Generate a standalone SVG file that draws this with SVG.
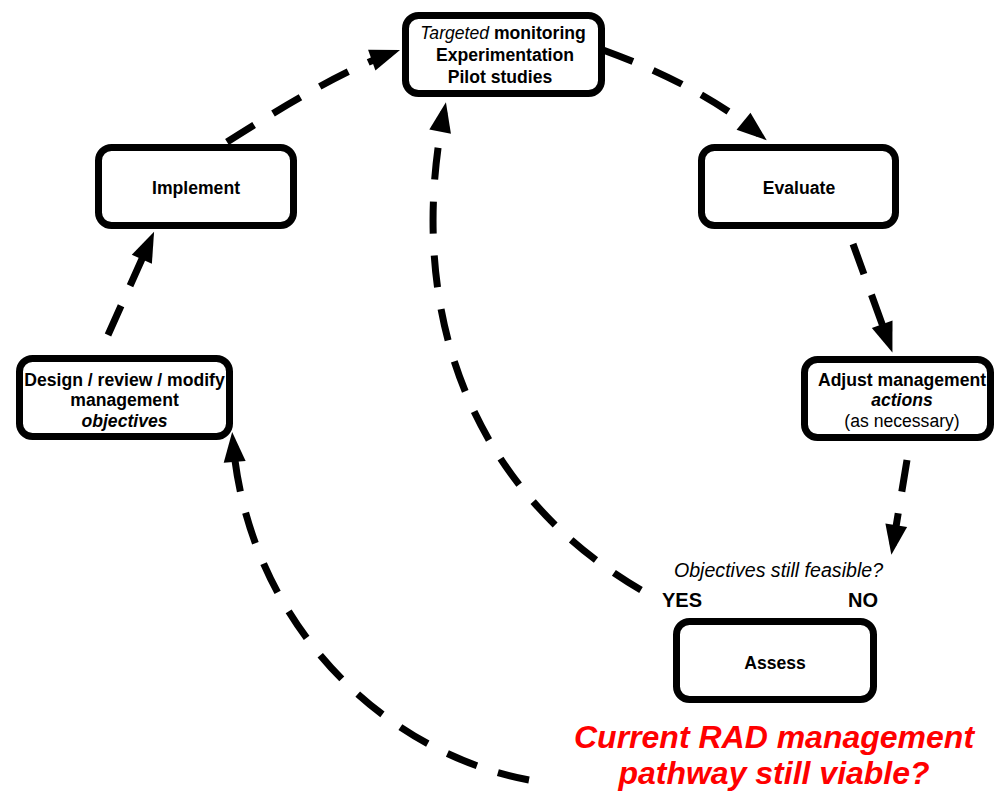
<svg xmlns="http://www.w3.org/2000/svg" width="994" height="791" viewBox="0 0 994 791">
<style>
.box{fill:#fff;stroke:#000;stroke-width:7}
.t{font-family:"Liberation Sans",Arial,sans-serif;font-size:17.6px;font-weight:bold;text-anchor:middle;fill:#000}
.n{font-weight:normal}
.i{font-style:italic}
.c{fill:none;stroke:#000;stroke-width:7;stroke-dasharray:32 22}
.lbl{font-family:"Liberation Sans",Arial,sans-serif;fill:#000}
.red{font-family:"Liberation Sans",Arial,sans-serif;font-size:32px;font-weight:bold;font-style:italic;fill:#ff0000;text-anchor:middle}
</style>
<defs>
<marker id="ah" viewBox="-22 -13 34 26" refX="0" refY="0" markerWidth="34" markerHeight="26" markerUnits="userSpaceOnUse" orient="auto">
<path d="M-20,-11 L10,0 L-20,11 z" fill="#000"/>
</marker>
</defs>
<g id="connectors">
<path class="c" d="M227,142 Q334.6,73.2 390.6,53.4" marker-end="url(#ah)"/>
<path class="c" d="M603,50 Q699,85 759,134" marker-end="url(#ah)"/>
<path class="c" d="M853,244 L889,343" marker-end="url(#ah)"/>
<path class="c" d="M907,460 L893,545" marker-end="url(#ah)"/>
<path class="c" d="M641,590 C470,490 405,310 444,112" marker-end="url(#ah)"/>
<path class="c" d="M529,780 C380,752 248,620 233,442" marker-end="url(#ah)"/>
<path class="c" d="M108,335 L150,241" marker-end="url(#ah)"/>
</g>
<g id="node-monitoring">
<rect class="box" x="405.5" y="15.5" width="196" height="78" rx="13"/>
<text class="t" x="503" y="39"><tspan class="n i">Targeted</tspan> monitoring</text>
<text class="t" x="505" y="61">Experimentation</text>
<text class="t" x="500" y="83">Pilot studies</text>
</g>
<g id="node-implement">
<rect class="box" x="98.5" y="147.5" width="195" height="78" rx="13"/>
<text class="t" x="196" y="194">Implement</text>
</g>
<g id="node-evaluate">
<rect class="box" x="701.5" y="147.5" width="194" height="78" rx="13"/>
<text class="t" x="799" y="194">Evaluate</text>
</g>
<g id="node-design">
<rect class="box" x="19.5" y="358.5" width="210" height="78" rx="13"/>
<text class="t" x="124.5" y="386">Design / review / modify</text>
<text class="t" x="124.5" y="406">management</text>
<text class="t i" x="124.5" y="427">objectives</text>
</g>
<g id="node-adjust">
<rect class="box" x="804.5" y="359.5" width="186" height="78" rx="13"/>
<text class="t" x="902" y="386">Adjust management</text>
<text class="t i" x="902" y="406">actions</text>
<text class="t n" x="902" y="427">(as necessary)</text>
</g>
<g id="node-assess">
<rect class="box" x="676.5" y="621.5" width="197" height="78" rx="13"/>
<text class="t" x="775" y="669">Assess</text>
</g>
<g id="labels">
<text class="lbl" x="778.5" y="577" font-size="19.6" font-style="italic" text-anchor="middle">Objectives still feasible?</text>
<text class="lbl" x="662" y="607" font-size="20" font-weight="bold">YES</text>
<text class="lbl" x="878" y="607" font-size="20" font-weight="bold" text-anchor="end">NO</text>
<text class="red" x="774" y="748">Current RAD management</text>
<text class="red" x="774" y="784">pathway still viable?</text>
</g>
</svg>
